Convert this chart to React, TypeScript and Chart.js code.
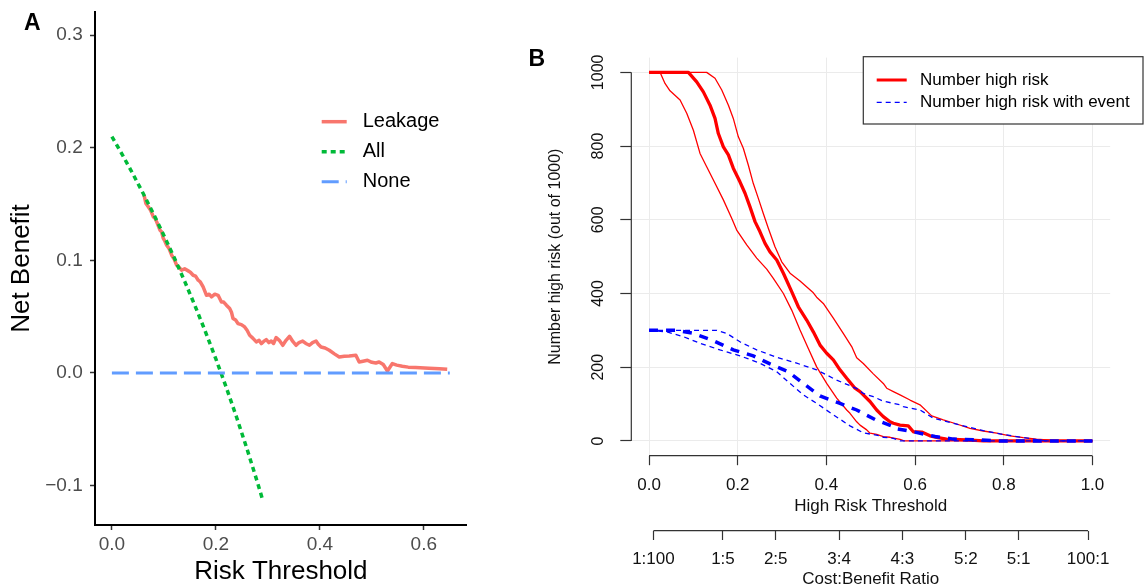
import React, { useEffect, useRef } from 'react';
import { Chart, registerables } from 'chart.js';

Chart.register(...registerables);

// ---------------- Panel A data (decision curve) ----------------
const allThreshold = [0, 0.02, 0.04, 0.06, 0.08, 0.1, 0.12, 0.14, 0.16, 0.18, 0.2, 0.22, 0.24, 0.26, 0.28, 0.29];
const allNetBenefit = [0.21, 0.1939, 0.1771, 0.1596, 0.1413, 0.1222, 0.1023, 0.0814, 0.0595, 0.0366, 0.0125, -0.0128, -0.0395, -0.0676, -0.0972, -0.1127];

const noneThreshold = [0, 0.65];
const noneNetBenefit = [0, 0];

const leakageThreshold = [
  0.0619, 0.0655, 0.07, 0.0745, 0.0797, 0.083, 0.0862, 0.0925, 0.0955, 0.0989, 0.102, 0.1054, 0.11, 0.115, 0.12,
  0.1245, 0.129, 0.134, 0.14, 0.1467, 0.151, 0.1563, 0.161, 0.166, 0.17, 0.1755, 0.182, 0.187, 0.1916, 0.198,
  0.2043, 0.2107, 0.215, 0.2203, 0.2266, 0.23, 0.233, 0.238, 0.2425, 0.249, 0.2554, 0.26, 0.265, 0.271, 0.2778,
  0.283, 0.2874, 0.292, 0.297, 0.302, 0.3065, 0.311, 0.316, 0.322, 0.3287, 0.335, 0.3416, 0.348, 0.3544, 0.36,
  0.367, 0.373, 0.38, 0.386, 0.3927, 0.397, 0.4023, 0.41, 0.4182, 0.428, 0.4374, 0.447, 0.4565, 0.4693, 0.4757,
  0.483, 0.4916, 0.5, 0.5077, 0.514, 0.522, 0.53, 0.5395, 0.548, 0.5586, 0.57, 0.5843, 0.61, 0.63, 0.645,
];
const leakageNetBenefit = [
  0.158, 0.1505, 0.1476, 0.1445, 0.1387, 0.1375, 0.1342, 0.1268, 0.1255, 0.1195, 0.117, 0.1135, 0.1105, 0.1046, 0.101,
  0.0957, 0.094, 0.0913, 0.0925, 0.0907, 0.0895, 0.0868, 0.086, 0.0824, 0.081, 0.0764, 0.069, 0.07, 0.0676, 0.07,
  0.069, 0.0631, 0.063, 0.0602, 0.0572, 0.054, 0.0484, 0.047, 0.0439, 0.043, 0.0409, 0.038, 0.0335, 0.031, 0.0276,
  0.029, 0.0261, 0.028, 0.0297, 0.027, 0.0284, 0.0262, 0.0315, 0.029, 0.0246, 0.029, 0.0326, 0.028, 0.0246, 0.027,
  0.0284, 0.0262, 0.0246, 0.027, 0.0284, 0.0255, 0.0231, 0.0222, 0.0202, 0.017, 0.0142, 0.0148, 0.0151, 0.0157, 0.0098,
  0.0105, 0.0113, 0.0095, 0.0089, 0.0098, 0.0075, 0.0018, 0.0084, 0.007, 0.006, 0.0052, 0.0048, 0.0042, 0.0038, 0.0033,
];

const aXTicks = [0, 0.2, 0.4, 0.6];
const aXTickLabels = ['0.0', '0.2', '0.4', '0.6'];
const aYTicks = [-0.1, 0, 0.1, 0.2, 0.3];
const aYTickLabels = ['\u22120.1', '0.0', '0.1', '0.2', '0.3'];

// ---------------- Panel B data (clinical impact curve) ----------------
const highRisk: number[][] = [
  [0, 1000], [0.0887, 1000], [0.1075, 974], [0.1225, 947], [0.1375, 911], [0.1488, 875], [0.1563, 834], [0.1676, 798],
  [0.1789, 776], [0.19, 740], [0.205, 703], [0.2165, 672], [0.2277, 635], [0.239, 595], [0.25, 568], [0.2616, 536],
  [0.2728, 513], [0.288, 491], [0.303, 455], [0.3217, 405], [0.3367, 364], [0.3555, 328], [0.3705, 296], [0.3856, 260],
  [0.4006, 238], [0.4156, 220], [0.4306, 193], [0.4458, 170], [0.4645, 143], [0.4758, 134], [0.4832, 125], [0.4983, 107],
  [0.5134, 84], [0.5209, 75], [0.5283, 66], [0.5434, 52], [0.551, 48], [0.566, 43], [0.5847, 41], [0.596, 25],
  [0.615, 24], [0.6336, 14], [0.6487, 10], [0.671, 5], [0.716, 3], [0.754, 0], [1, 0],
];
const highRiskUpper: number[][] = [
  [0, 1000], [0.13, 1000], [0.1488, 984], [0.164, 952], [0.179, 911], [0.19, 875], [0.2014, 825], [0.2126, 794],
  [0.224, 748], [0.235, 699], [0.2465, 658], [0.2577, 617], [0.269, 577], [0.284, 527], [0.2992, 486], [0.318, 455],
  [0.3405, 434], [0.359, 414], [0.3705, 402], [0.378, 390], [0.393, 373], [0.4156, 333], [0.438, 292], [0.457, 256],
  [0.4683, 226], [0.4832, 210], [0.5058, 182], [0.5283, 156], [0.536, 143], [0.551, 134], [0.566, 125], [0.5885, 111],
  [0.611, 98], [0.6374, 68], [0.6636, 57], [0.6938, 46], [0.7238, 34], [0.7538, 27], [0.784, 21], [0.814, 14],
  [0.844, 9], [0.874, 5], [0.904, 2], [0.934, 0], [1, 0],
];
const highRiskLower: number[][] = [
  [0, 1000], [0.0248, 1000], [0.036, 970], [0.0473, 950], [0.07, 925], [0.085, 889], [0.1, 843], [0.115, 780],
  [0.13, 744], [0.1488, 699], [0.1676, 654], [0.1864, 604], [0.1977, 572], [0.2203, 532], [0.2428, 496], [0.2654, 466],
  [0.2803, 441], [0.303, 400], [0.3217, 355], [0.3405, 301], [0.3592, 251], [0.378, 201], [0.4006, 156], [0.4232, 116],
  [0.4458, 84], [0.4532, 75], [0.4683, 52], [0.4758, 43], [0.4909, 30], [0.4983, 21], [0.5134, 18], [0.5283, 12],
  [0.5434, 10], [0.566, 4], [0.575, 0], [1, 0],
];
const withEvent: number[][] = [
  [0, 300], [0.0624, 300], [0.1, 292], [0.145, 272], [0.19, 247], [0.235, 231], [0.2728, 209], [0.314, 188],
  [0.348, 156], [0.3856, 122], [0.4307, 102], [0.4683, 84], [0.5096, 58], [0.551, 39], [0.5547, 34], [0.6, 24],
  [0.645, 12], [0.686, 5], [0.739, 3], [0.791, 0], [1, 0],
];
const withEventUpper: number[][] = [
  [0, 300], [0.1526, 300], [0.175, 292], [0.205, 269], [0.2428, 247], [0.288, 227], [0.333, 211], [0.378, 193],
  [0.4232, 165], [0.4532, 150], [0.4683, 142], [0.4832, 129], [0.5058, 120], [0.5283, 108], [0.566, 98], [0.5734, 93],
  [0.611, 84], [0.641, 62], [0.6787, 50], [0.7163, 39], [0.754, 28], [0.7914, 19], [0.829, 12], [0.8665, 5],
  [0.889, 1], [0.9, 0], [1, 0],
];
const withEventLower: number[][] = [
  [0, 300], [0.04, 296], [0.0774, 283], [0.115, 265], [0.16, 247], [0.205, 231], [0.25, 211], [0.288, 188],
  [0.318, 156], [0.348, 125], [0.378, 102], [0.4156, 71], [0.4532, 41], [0.4832, 22], [0.5209, 14], [0.5283, 10],
  [0.551, 7], [0.566, 0], [1, 0],
];

const bXTicks = [0, 0.2, 0.4, 0.6, 0.8, 1.0];
const bXTickLabels = ['0.0', '0.2', '0.4', '0.6', '0.8', '1.0'];
const bYTicks = [0, 200, 400, 600, 800, 1000];
const bYTickLabels = ['0', '200', '400', '600', '800', '1000'];
const costBenefitTicks = [0.0099, 0.1667, 0.2857, 0.4286, 0.5714, 0.7143, 0.8333, 0.9901];
const costBenefitLabels = ['1:100', '1:5', '2:5', '3:4', '4:3', '5:2', '5:1', '100:1'];

// ---------------- helpers ----------------
const FONT = "'Liberation Sans', Arial, Helvetica, sans-serif";

const toPoints = (xs: number[], ys: number[]) => xs.map((x, i) => ({ x, y: ys[i] }));
const pairsToPoints = (pairs: number[][]) => pairs.map((p) => ({ x: p[0], y: p[1] }));
const fixedTicks = (values: number[]) => (scale: any) => {
  scale.ticks = values.map((v) => ({ value: v }));
};
const tickLabel = (values: number[], labels: string[]) => (value: any) => {
  const i = values.findIndex((v) => Math.abs(v - Number(value)) < 1e-9);
  return i >= 0 ? labels[i] : '';
};
const fitHeight = (h: number) => (s: any) => {
  s.height = h;
  s.paddingLeft = 0;
  s.paddingRight = 0;
  s.paddingTop = 0;
  s.paddingBottom = 0;
};
const fitWidth = (w: number) => (s: any) => {
  s.width = w;
  s.paddingLeft = 0;
  s.paddingRight = 0;
  s.paddingTop = 0;
  s.paddingBottom = 0;
};

type LegendItem = { datasetIndex: number; lineWidth?: number; dash?: number[] };
type LegendOpts = {
  items: LegendItem[];
  x0: number; x1: number; textX: number; y0: number; dy: number;
  font: string; color: string;
  box?: { left: number; top: number; right: number; bottom: number };
};

const makeLegendPlugin = (id: string, o: LegendOpts) => ({
  id,
  afterDraw(chart: any) {
    const ctx = chart.ctx as CanvasRenderingContext2D;
    ctx.save();
    if (o.box) {
      ctx.fillStyle = '#ffffff';
      ctx.fillRect(o.box.left, o.box.top, o.box.right - o.box.left, o.box.bottom - o.box.top);
      ctx.strokeStyle = '#333333';
      ctx.lineWidth = 1.2;
      ctx.setLineDash([]);
      ctx.strokeRect(o.box.left, o.box.top, o.box.right - o.box.left, o.box.bottom - o.box.top);
    }
    o.items.forEach((item, i) => {
      const ds = chart.data.datasets[item.datasetIndex];
      const y = o.y0 + i * o.dy;
      ctx.beginPath();
      ctx.setLineDash(item.dash ?? ds.borderDash ?? []);
      ctx.lineCap = 'butt';
      ctx.lineWidth = item.lineWidth ?? ds.borderWidth;
      ctx.strokeStyle = ds.borderColor;
      ctx.moveTo(o.x0, y);
      ctx.lineTo(o.x1, y);
      ctx.stroke();
      ctx.setLineDash([]);
      ctx.fillStyle = o.color;
      ctx.font = o.font;
      ctx.textBaseline = 'middle';
      ctx.textAlign = 'left';
      ctx.fillText(ds.label, o.textX, y);
    });
    ctx.restore();
  },
});

// R-style axis lines spanning only the tick range
const rAxesPlugin = {
  id: 'rAxes',
  beforeDatasetsDraw(chart: any) {
    const { ctx, scales } = chart;
    const x = scales.x;
    const x2 = scales.x2;
    const y = scales.y;
    ctx.save();
    ctx.strokeStyle = '#333333';
    ctx.lineWidth = 1.2;
    ctx.setLineDash([]);
    ctx.beginPath();
    ctx.moveTo(x.getPixelForValue(bXTicks[0]), x.top);
    ctx.lineTo(x.getPixelForValue(bXTicks[bXTicks.length - 1]), x.top);
    ctx.moveTo(x2.getPixelForValue(costBenefitTicks[0]), x2.top);
    ctx.lineTo(x2.getPixelForValue(costBenefitTicks[costBenefitTicks.length - 1]), x2.top);
    ctx.moveTo(y.right, y.getPixelForValue(bYTicks[0]));
    ctx.lineTo(y.right, y.getPixelForValue(bYTicks[bYTicks.length - 1]));
    ctx.stroke();
    ctx.restore();
  },
};

export default function App() {
  const refA = useRef<HTMLCanvasElement>(null);
  const refB = useRef<HTMLCanvasElement>(null);

  useEffect(() => {
    if (!refA.current || !refB.current) return;

    const legendA = makeLegendPlugin('legendA', {
      items: [{ datasetIndex: 2 }, { datasetIndex: 1 }, { datasetIndex: 0 }],
      x0: 321.7, x1: 346.7, textX: 362.7, y0: 121.7, dy: 30,
      font: `20px ${FONT}`, color: '#000000',
    });

    const chartA = new Chart(refA.current, {
      type: 'line',
      data: {
        datasets: [
          { label: 'None', data: toPoints(noneThreshold, noneNetBenefit), borderColor: '#619CFF', borderWidth: 3, borderDash: [17, 7] },
          { label: 'All', data: toPoints(allThreshold, allNetBenefit), borderColor: '#00BA38', borderWidth: 3.5, borderDash: [5, 4] },
          { label: 'Leakage', data: toPoints(leakageThreshold, leakageNetBenefit), borderColor: '#F8766D', borderWidth: 3.5, borderJoinStyle: 'round' },
        ] as any,
      },
      options: {
        animation: false,
        responsive: false,
        events: [],
        elements: { point: { radius: 0 }, line: { tension: 0 } },
        layout: { padding: { left: 0, top: 12, right: 73.3, bottom: 0 } },
        plugins: { legend: { display: false }, tooltip: { enabled: false } },
        scales: {
          x: {
            type: 'linear', min: -0.0325, max: 0.6825,
            afterBuildTicks: fixedTicks(aXTicks),
            afterFit: fitHeight(62),
            grid: { drawOnChartArea: false, drawTicks: true, tickLength: 5, tickColor: '#333333', tickWidth: 1.5 },
            border: { display: true, color: '#000000', width: 2 },
            ticks: { autoSkip: false, maxRotation: 0, minRotation: 0, font: { family: FONT, size: 19 }, color: '#4D4D4D', padding: 3.6, callback: tickLabel(aXTicks, aXTickLabels) },
            title: { display: true, text: 'Risk Threshold', font: { family: FONT, size: 26 }, color: '#000000', padding: { top: 0, bottom: 0 } },
          },
          y: {
            type: 'linear', min: -0.135, max: 0.3206,
            afterBuildTicks: fixedTicks(aYTicks),
            afterFit: fitWidth(95),
            grid: { drawOnChartArea: false, drawTicks: true, tickLength: 5, tickColor: '#333333', tickWidth: 1.5 },
            border: { display: true, color: '#000000', width: 2 },
            ticks: { autoSkip: false, font: { family: FONT, size: 19 }, color: '#4D4D4D', padding: 7.3, callback: tickLabel(aYTicks, aYTickLabels) },
            title: { display: true, text: 'Net Benefit', font: { family: FONT, size: 26 }, color: '#000000', padding: { top: 6, bottom: 0 } },
          },
        },
      } as any,
      plugins: [legendA],
    });

    const legendB = makeLegendPlugin('legendB', {
      items: [{ datasetIndex: 3, lineWidth: 3 }, { datasetIndex: 0, lineWidth: 1.3, dash: [5, 4] }],
      x0: 336.7, x1: 366.7, textX: 380, y0: 80, dy: 22.3,
      font: `17px ${FONT}`, color: '#000000',
      box: { left: 323.3, top: 56.7, right: 603, bottom: 124 },
    });

    const chartB = new Chart(refB.current, {
      type: 'line',
      data: {
        datasets: [
          { label: 'Number high risk with event', data: pairsToPoints(withEvent), borderColor: '#0000FF', borderWidth: 3.5, borderDash: [9, 8] },
          { label: 'Number high risk with event (upper)', data: pairsToPoints(withEventUpper), borderColor: '#0000FF', borderWidth: 1.3, borderDash: [5, 4] },
          { label: 'Number high risk with event (lower)', data: pairsToPoints(withEventLower), borderColor: '#0000FF', borderWidth: 1.3, borderDash: [5, 4] },
          { label: 'Number high risk', data: pairsToPoints(highRisk), borderColor: '#FF0000', borderWidth: 3.3, borderJoinStyle: 'round' },
          { label: 'Number high risk (upper)', data: pairsToPoints(highRiskUpper), borderColor: '#FF0000', borderWidth: 1.3, borderJoinStyle: 'round' },
          { label: 'Number high risk (lower)', data: pairsToPoints(highRiskLower), borderColor: '#FF0000', borderWidth: 1.3, borderJoinStyle: 'round' },
        ] as any,
      },
      options: {
        animation: false,
        responsive: false,
        events: [],
        elements: { point: { radius: 0 }, line: { tension: 0 } },
        layout: { padding: { left: 0, top: 57.6, right: 34.8, bottom: 0 } },
        plugins: { legend: { display: false }, tooltip: { enabled: false } },
        scales: {
          x: {
            type: 'linear', position: 'bottom', weight: 0, min: -0.04, max: 1.04,
            afterBuildTicks: fixedTicks(bXTicks),
            afterFit: fitHeight(75),
            grid: { color: '#EBEBEB', lineWidth: 1, drawTicks: true, tickLength: 9.5, tickColor: '#333333', tickWidth: 1.2 },
            border: { display: false },
            ticks: { autoSkip: false, maxRotation: 0, minRotation: 0, font: { family: FONT, size: 17 }, color: '#111111', padding: 9.6, callback: tickLabel(bXTicks, bXTickLabels) },
            title: { display: true, text: 'High Risk Threshold', font: { family: FONT, size: 17 }, color: '#111111', padding: { top: 0, bottom: 14.2 } },
          },
          x2: {
            type: 'linear', axis: 'x', position: 'bottom', weight: 1, min: -0.04, max: 1.04,
            afterBuildTicks: fixedTicks(costBenefitTicks),
            afterFit: fitHeight(56.3),
            grid: { drawOnChartArea: false, drawTicks: true, tickLength: 9.3, tickColor: '#333333', tickWidth: 1.2 },
            border: { display: false },
            ticks: { autoSkip: false, maxRotation: 0, minRotation: 0, font: { family: FONT, size: 17 }, color: '#111111', padding: 9.2, callback: tickLabel(costBenefitTicks, costBenefitLabels) },
            title: { display: true, text: 'Cost:Benefit Ratio', font: { family: FONT, size: 17 }, color: '#111111', padding: { top: 0, bottom: -2.5 } },
          },
          y: {
            type: 'linear', min: -40, max: 1040,
            afterBuildTicks: fixedTicks(bYTicks),
            afterFit: fitWidth(91.3),
            grid: { color: '#EBEBEB', lineWidth: 1, drawTicks: true, tickLength: 11, tickColor: '#333333', tickWidth: 1.2 },
            border: { display: false },
            ticks: { autoSkip: false, minRotation: 90, maxRotation: 90, crossAlign: 'center', font: { family: FONT, size: 16 }, color: '#111111', padding: 4, callback: tickLabel(bYTicks, bYTickLabels) },
            title: { display: true, text: 'Number high risk (out of 1000)', font: { family: FONT, size: 16 }, color: '#111111', padding: { top: 6.3, bottom: 0 } },
          },
        },
      } as any,
      plugins: [rAxesPlugin, legendB],
    });

    return () => {
      chartA.destroy();
      chartB.destroy();
    };
  }, []);

  const panelLabel: React.CSSProperties = {
    position: 'absolute',
    fontFamily: FONT,
    fontWeight: 'bold',
    fontSize: 23,
    lineHeight: '23px',
    color: '#000',
  };

  return (
    <div style={{ position: 'absolute', left: 0, top: 0, width: 1145, height: 587, overflow: 'hidden', background: '#ffffff' }}>
      <canvas ref={refA} width={540} height={587} style={{ position: 'absolute', left: 0, top: 0, width: 540, height: 587 }} />
      <canvas ref={refB} width={605} height={587} style={{ position: 'absolute', left: 540, top: 0, width: 605, height: 587 }} />
      <div style={{ ...panelLabel, left: 24, top: 10.5 }}>A</div>
      <div style={{ ...panelLabel, left: 528.5, top: 47 }}>B</div>
    </div>
  );
}
